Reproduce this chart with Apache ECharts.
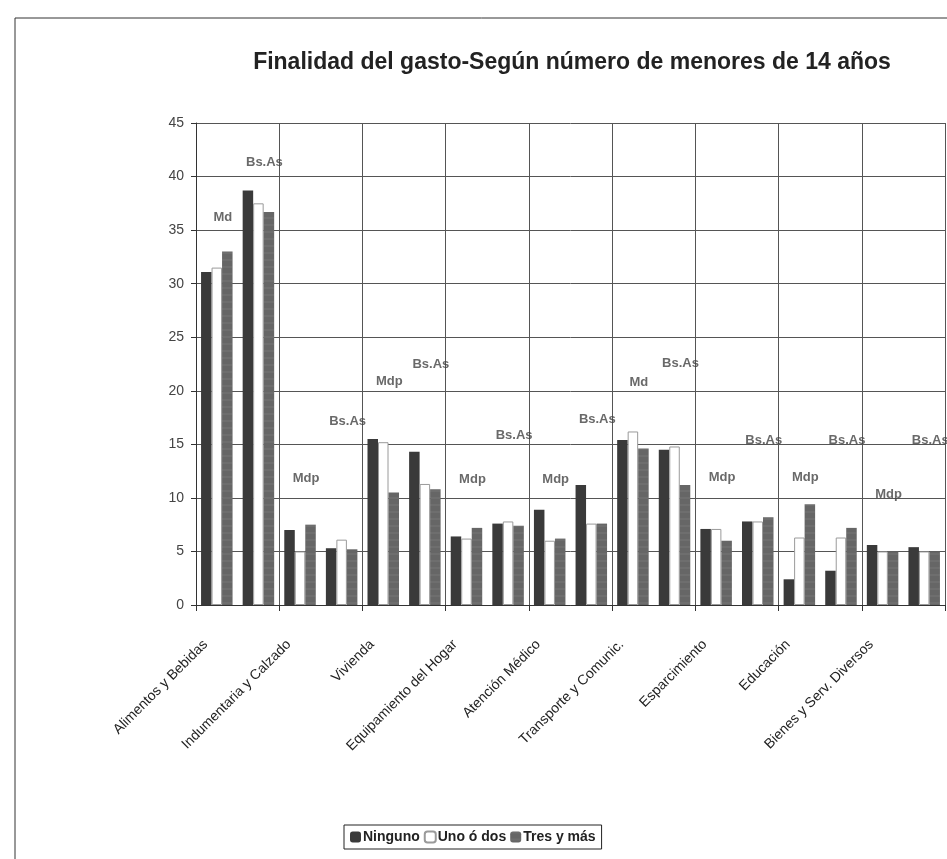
<!DOCTYPE html>
<html>
<head>
<meta charset="utf-8">
<script src="https://cdn.jsdelivr.net/npm/echarts@6/dist/echarts.min.js"></script>
<style>
  html, body { margin: 0; padding: 0; background: #fff; }
  #chart { width: 947px; height: 859px; }
</style>
</head>
<body>
<div id="chart"></div>
<script>
// rubros del gasto
var categories = ['Alimentos y Bebidas', 'Indumentaria y Calzado', 'Vivienda', 'Equipamiento del Hogar',
  'Atención Médico', 'Transporte y Comunic.', 'Esparcimiento', 'Educación', 'Bienes y Serv. Diversos'];

// dos grupos por rubro: Mdp y Bs.As (en ese orden)
var ninguno  = [31.1, 38.7, 7.0, 5.3, 15.5, 14.3, 6.4, 7.6, 8.9, 11.2, 15.4, 14.5, 7.1, 7.8, 2.4, 3.2, 5.6, 5.4];
var unoODos  = [31.5, 37.5, 5.0, 6.1, 15.2, 11.3, 6.2, 7.8, 6.0, 7.6, 16.2, 14.8, 7.1, 7.8, 6.3, 6.3, 5.0, 5.0];
var tresYMas = [33.0, 36.7, 7.5, 5.2, 10.5, 10.8, 7.2, 7.4, 6.2, 7.6, 14.6, 11.2, 6.0, 8.2, 9.4, 7.2, 5.0, 5.0];

// rotulos de cada grupo y la altura (en valores del eje) donde estan escritos
var groupLabels = ['Md', 'Bs.As', 'Mdp', 'Bs.As', 'Mdp', 'Bs.As', 'Mdp', 'Bs.As', 'Mdp', 'Bs.As',
  'Md', 'Bs.As', 'Mdp', 'Bs.As', 'Mdp', 'Bs.As', 'Mdp', 'Bs.As'];
var groupLabelY = [36.2, 41.3, 11.8, 17.1, 20.9, 22.5, 11.7, 15.8, 11.7, 17.3,
  20.8, 22.6, 11.9, 15.4, 11.9, 15.4, 10.3, 15.4];

var yTicks = [0, 5, 10, 15, 20, 25, 30, 35, 40, 45];

var groups = [];
categories.forEach(function (c) { groups.push(c); groups.push(c); });

var chart = echarts.init(document.getElementById('chart'));

var barBase = {
  type: 'bar',
  xAxisIndex: 0,
  barWidth: 10.5,
  barGap: '0%',
  z: 3
};

var option = {
  backgroundColor: '#fff',
  animation: false,
  title: {
    text: 'Finalidad del gasto-Según número de menores de 14 años',
    left: 567,
    textAlign: 'center',
    top: 46,
    textStyle: { fontFamily: 'Arial, Liberation Sans', fontSize: 23, fontWeight: 'bold', color: '#222' }
  },
  legend: {
    data: ['Ninguno', 'Uno ó dos', 'Tres y más'],
    left: 344,
    top: 825,
    itemWidth: 11,
    itemHeight: 11,
    itemGap: 4,
    padding: [5, 6, 5, 6],
    borderColor: '#222',
    borderWidth: 1,
    backgroundColor: '#fff',
    textStyle: { fontFamily: 'Arial, Liberation Sans', fontSize: 14, fontWeight: 'bold', color: '#222', padding: [0, 0, 0, -3] }
  },
  graphic: [{
    type: 'rect',
    shape: { x: 15, y: 18, width: 1000, height: 900 },
    style: { fill: 'none', stroke: '#333', lineWidth: 1 },
    silent: true
  }],
  grid: { left: 196, right: 2, top: 123, bottom: 254 },
  xAxis: [{
    type: 'category',
    data: groups,
    axisLine: { show: true, lineStyle: { color: '#333', width: 1 } },
    axisTick: { show: false },
    splitLine: { show: false },
    axisLabel: {
      interval: function (i) { return i % 2 === 0; },
      rotate: 45,
      margin: 26,
      padding: [0, 16, 0, 0],
      fontFamily: 'Arial, Liberation Sans',
      fontSize: 14,
      color: '#222'
    }
  }, {
    type: 'category',
    data: categories,
    position: 'bottom',
    axisLine: { show: false },
    axisTick: { show: true, interval: 0, length: 6, lineStyle: { color: '#333' } },
    axisLabel: { show: false, interval: 0 },
    splitLine: { show: true, interval: 0, lineStyle: { color: '#555', width: 1 } }
  }],
  yAxis: {
    type: 'value',
    min: yTicks[0],
    max: yTicks[yTicks.length - 1],
    interval: 5,
    axisLine: { show: true, lineStyle: { color: '#333' } },
    axisTick: { show: true, length: 5, lineStyle: { color: '#333' } },
    axisLabel: { margin: 12, fontFamily: 'Arial, Liberation Sans', fontSize: 14, color: '#444' },
    splitLine: { show: true, lineStyle: { color: '#555', width: 1 } }
  },
  series: [
    Object.assign({}, barBase, {
      name: 'Ninguno',
      data: ninguno,
      itemStyle: { color: '#3a3a3a' }
    }),
    Object.assign({}, barBase, {
      name: 'Uno ó dos',
      data: unoODos,
      itemStyle: { color: '#ffffff', borderColor: '#9a9a9a', borderWidth: 1 }
    }),
    Object.assign({}, barBase, {
      name: 'Tres y más',
      data: tresYMas,
      itemStyle: {
        color: '#666666',
        decal: {
          symbol: 'rect',
          symbolSize: 0.5,
          color: 'rgba(200,200,200,0.35)',
          dashArrayX: [1, 0],
          dashArrayY: [2, 5],
          rotation: 0
        }
      }
    }),
    {
      type: 'scatter',
      xAxisIndex: 0,
      silent: true,
      z: 2,
      symbolSize: 0,
      data: groupLabelY.map(function (v, i) { return [i, v]; }),
      label: {
        show: true,
        position: 'inside',
        offset: [6, 0],
        formatter: function (p) { return groupLabels[p.dataIndex]; },
        fontFamily: 'Arial, Liberation Sans',
        fontSize: 13,
        fontWeight: 'bold',
        color: '#444'
      }
    }
  ]
};

chart.setOption(option);
</script>
</body>
</html>
